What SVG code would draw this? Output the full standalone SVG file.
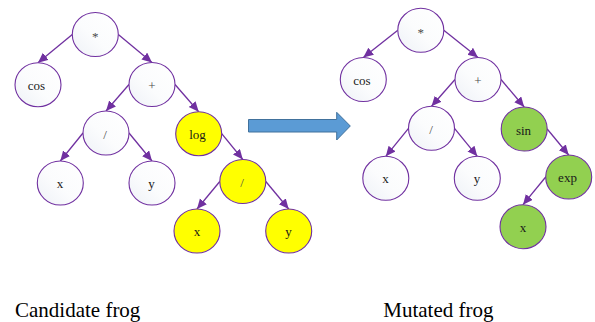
<svg xmlns="http://www.w3.org/2000/svg" width="595" height="322" viewBox="0 0 595 322">
  <defs>
    <linearGradient id="paleFill" x1="1" y1="0" x2="0" y2="1">
      <stop offset="0" stop-color="#FFFFFF"/>
      <stop offset="0.55" stop-color="#FBFCFD"/>
      <stop offset="1" stop-color="#EEF1F7"/>
    </linearGradient>
    <marker id="head" markerUnits="userSpaceOnUse" markerWidth="11" markerHeight="10" refX="10" refY="4.5" orient="auto">
      <path d="M0,0 L10,4.5 L0,9 z" fill="#7030A0"/>
    </marker>
    <style>
      .node ellipse { stroke: #7030A0; stroke-width: 1.1; }
      .plain ellipse { fill: url(#paleFill); }
      .yellow ellipse { fill: #FFFF00; }
      .green ellipse { fill: #92D050; }
      text { font-family: 'Liberation Serif', 'Times New Roman', Times, serif; }
      .node text { font-size: 13px; fill: #1A1A1A; text-anchor: middle; }
      .node text.op { fill: #4A4A4A; }
      #connectors line { stroke: #7030A0; stroke-width: 1.3; marker-end: url(#head); }
      .caption { font-size: 21px; fill: #000; }
    </style>
  </defs>

  <rect width="595" height="322" fill="#FFFFFF"/>

  <!-- edges of both expression trees -->
  <g id="connectors">
    <line x1="72.3" y1="34.5" x2="38" y2="62.7"/>
    <line x1="118.3" y1="34.5" x2="152" y2="62.5"/>
    <line x1="129" y1="84.5" x2="106" y2="111"/>
    <line x1="175" y1="84.5" x2="198.7" y2="111.7"/>
    <line x1="83" y1="133" x2="60.3" y2="161"/>
    <line x1="129" y1="133" x2="152" y2="161"/>
    <line x1="221.7" y1="133.7" x2="242.8" y2="159.5"/>
    <line x1="219.8" y1="181.5" x2="197" y2="209"/>
    <line x1="265.8" y1="181.5" x2="288.7" y2="209"/>

    <line x1="397.8" y1="30.3" x2="363.3" y2="57.5"/>
    <line x1="443.8" y1="30.3" x2="478" y2="57.5"/>
    <line x1="455" y1="79.5" x2="431.5" y2="106.3"/>
    <line x1="501" y1="79.5" x2="524.2" y2="107"/>
    <line x1="408.5" y1="128.3" x2="385.8" y2="156.3"/>
    <line x1="454.5" y1="128.3" x2="477.3" y2="156.3"/>
    <line x1="547.2" y1="129" x2="568.7" y2="155"/>
    <line x1="545.7" y1="177" x2="523" y2="204.7"/>
  </g>

  <!-- candidate tree -->
  <g id="c-mul" class="node plain"><ellipse cx="95.3" cy="34.5" rx="23" ry="22"/><text class="op" x="95.3" y="41" font-family="Liberation Serif">*</text></g>
  <g id="c-cos" class="node plain"><ellipse cx="38" cy="84.7" rx="23" ry="22"/><text x="36.5" y="90.2" font-family="Liberation Serif">cos</text></g>
  <g id="c-add" class="node plain"><ellipse cx="152" cy="84.5" rx="23" ry="22"/><text class="op" x="152" y="90" font-family="Liberation Serif">+</text></g>
  <g id="c-div" class="node plain"><ellipse cx="106" cy="133" rx="23" ry="22"/><text class="op" x="105" y="138.5" font-family="Liberation Serif">/</text></g>
  <g id="c-log" class="node yellow"><ellipse cx="198.7" cy="133.7" rx="23" ry="22"/><text x="197.5" y="139.2" font-family="Liberation Serif">log</text></g>
  <g id="c-x" class="node plain"><ellipse cx="60.3" cy="183" rx="23" ry="22"/><text x="60" y="188" font-family="Liberation Serif">x</text></g>
  <g id="c-y" class="node plain"><ellipse cx="152" cy="183" rx="23" ry="22"/><text x="151.5" y="188" font-family="Liberation Serif">y</text></g>
  <g id="c-div2" class="node yellow"><ellipse cx="242.8" cy="181.5" rx="23" ry="22"/><text class="op" x="242" y="187" font-family="Liberation Serif">/</text></g>
  <g id="c-x2" class="node yellow"><ellipse cx="197" cy="231" rx="23" ry="22"/><text x="197" y="236" font-family="Liberation Serif">x</text></g>
  <g id="c-y2" class="node yellow"><ellipse cx="288.7" cy="231" rx="23" ry="22"/><text x="288.5" y="236" font-family="Liberation Serif">y</text></g>

  <!-- block arrow between the trees -->
  <g id="mutation-arrow">
    <polygon points="248.5,119.5 336.7,119.5 336.7,112.3 350.3,126 336.7,140 336.7,132 248.5,132" fill="#5B9BD5" stroke="#41719C" stroke-width="1"/>
  </g>

  <!-- mutated tree -->
  <g id="m-mul" class="node plain"><ellipse cx="420.8" cy="30.3" rx="23" ry="22"/><text class="op" x="420.8" y="36.8" font-family="Liberation Serif">*</text></g>
  <g id="m-cos" class="node plain"><ellipse cx="363.3" cy="79.5" rx="23" ry="22"/><text x="362" y="85" font-family="Liberation Serif">cos</text></g>
  <g id="m-add" class="node plain"><ellipse cx="478" cy="79.5" rx="23" ry="22"/><text class="op" x="478" y="85" font-family="Liberation Serif">+</text></g>
  <g id="m-div" class="node plain"><ellipse cx="431.5" cy="128.3" rx="23" ry="22"/><text class="op" x="431" y="133.8" font-family="Liberation Serif">/</text></g>
  <g id="m-sin" class="node green"><ellipse cx="524.2" cy="129" rx="23" ry="22"/><text x="523.5" y="134.5" font-family="Liberation Serif">sin</text></g>
  <g id="m-x" class="node plain"><ellipse cx="385.8" cy="178.3" rx="23" ry="22"/><text x="385.5" y="183.3" font-family="Liberation Serif">x</text></g>
  <g id="m-y" class="node plain"><ellipse cx="477.3" cy="178.3" rx="23" ry="22"/><text x="477" y="183.3" font-family="Liberation Serif">y</text></g>
  <g id="m-exp" class="node green"><ellipse cx="568.7" cy="177" rx="23" ry="22"/><text x="567.5" y="182" font-family="Liberation Serif">exp</text></g>
  <g id="m-x2" class="node green"><ellipse cx="523" cy="226.7" rx="23" ry="22"/><text x="523" y="231.7" font-family="Liberation Serif">x</text></g>

  <!-- captions -->
  <text class="caption" x="15" y="317" font-family="Liberation Serif">Candidate frog</text>
  <text class="caption" x="383.3" y="317" font-family="Liberation Serif">Mutated frog</text>
</svg>
